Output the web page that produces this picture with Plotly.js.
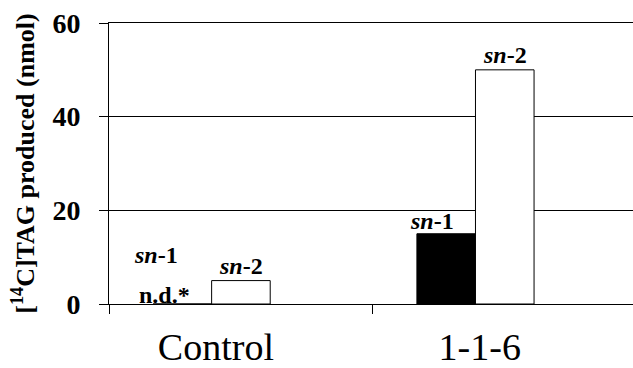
<!DOCTYPE html>
<html>
<head>
<meta charset="utf-8">
<script src="https://cdn.plot.ly/plotly-3.0.1.min.js"></script>
<style>html,body{margin:0;padding:0;background:#fff;}#chart{width:633px;height:368px;}</style>
</head>
<body>
<div id="chart"></div>
<script>
const categories = ['Control', '1-1-6'];
const sn1Values = [0, 15];
const sn2Values = [5, 50];
const sn1Detected = [false, true];
const seriesNames = ['<i>sn</i>-1', '<i>sn</i>-2'];
const notDetectedText = 'n.d.*';
const yTickVals = [0, 20, 40, 60];

const FONT = 'Liberation Serif';
const barWidth = 0.222;
const sn1Offset = -0.333;
const sn2Offset = -0.111;

const traces = [
  {
    type: 'bar', name: 'sn-1', x: categories, y: sn1Values,
    width: barWidth, offset: sn1Offset,
    marker: {color: '#000000', line: {color: '#000000', width: 1}},
    hoverinfo: 'skip'
  },
  {
    type: 'bar', name: 'sn-2', x: categories, y: sn2Values,
    width: barWidth, offset: sn2Offset,
    marker: {color: '#ffffff', line: {color: '#000000', width: 1}},
    hoverinfo: 'skip'
  }
];

const labelFont = {family: FONT, size: 24, color: '#000000'};
const annotations = [];
categories.forEach((c, i) => {
  if (sn1Detected[i]) {
    annotations.push({x: i - 0.275, y: sn1Values[i], xref: 'x', yref: 'y', text: '<b>' + seriesNames[0] + '</b>',
      showarrow: false, xanchor: 'center', yanchor: 'bottom', font: labelFont, yshift: -2});
  } else {
    annotations.push({x: i - 0.29, y: sn1Values[i], xref: 'x', yref: 'y', text: '<b>' + notDetectedText + '</b>',
      showarrow: false, xanchor: 'center', yanchor: 'bottom', font: labelFont, yshift: -6});
    annotations.push({x: i - 0.32, y: sn1Values[i], xref: 'x', yref: 'y', text: '<b>' + seriesNames[0] + '</b>',
      showarrow: false, xanchor: 'center', yanchor: 'bottom', font: labelFont, yshift: 34});
  }
  annotations.push({x: i, y: sn2Values[i], xref: 'x', yref: 'y', text: '<b>' + seriesNames[1] + '</b>',
    showarrow: false, xanchor: 'center', yanchor: 'bottom', font: labelFont, yshift: 0});
});

const layout = {
  width: 633, height: 368,
  margin: {l: 109, r: 0, t: 23, b: 64, pad: 0},
  paper_bgcolor: '#ffffff', plot_bgcolor: '#ffffff',
  showlegend: false,
  barmode: 'overlay',
  font: {family: FONT, color: '#000000'},
  xaxis: {
    type: 'category',
    range: [-0.5, 1.486],
    showline: true, linecolor: '#000000', linewidth: 1, mirror: true,
    ticks: 'outside', tickson: 'boundaries', ticklen: 9, tickcolor: '#000000', tickwidth: 1,
    showgrid: false, zeroline: false,
    tickfont: {family: FONT, size: 38, color: '#000000'},
    ticklabelshift: -25,
    ticklabelstandoff: 9
  },
  yaxis: {
    range: [0, 60],
    tickmode: 'array', tickvals: yTickVals, ticktext: yTickVals.map(v => '<b>' + v + '</b>'),
    showline: true, linecolor: '#000000', linewidth: 1,
    ticks: 'outside', ticklen: 9, tickcolor: '#000000', tickwidth: 1,
    showgrid: true, gridcolor: '#000000', gridwidth: 1,
    zeroline: false,
    tickfont: {family: FONT, size: 28, color: '#000000'},
    ticklabelstandoff: 13,
    title: {text: '<b>[<sup>14</sup>C]TAG produced (nmol)</b>', font: {family: FONT, size: 26, color: '#000000'}, standoff: 10}
  },
  annotations: annotations
};

Plotly.newPlot('chart', traces, layout, {staticPlot: true, displayModeBar: false});
</script>
</body>
</html>
